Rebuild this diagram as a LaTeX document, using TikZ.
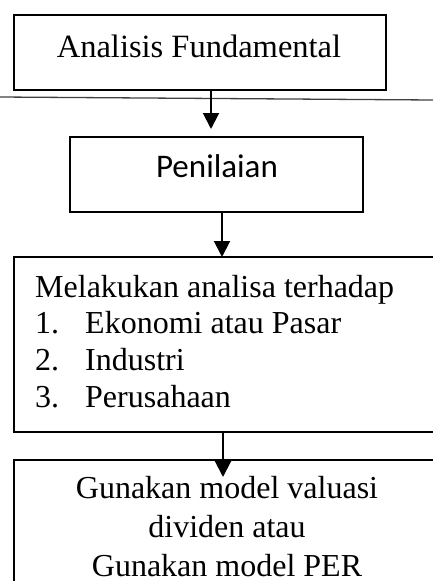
\documentclass[tikz,border=0pt]{standalone}
\usepackage{fontspec}
\setmainfont{Liberation Serif}
\newfontfamily\penfont{Carlito}
\usetikzlibrary{arrows.meta}
\begin{document}
\begin{tikzpicture}[x=1pt,y=-1pt,
  box/.style={draw=black,line width=2.2pt,inner sep=0pt},
  txt/.style={inner sep=0pt,font=\fontsize{32}{38}\selectfont},
  conn/.style={draw=black,line width=2pt,-{Triangle[width=16pt,length=16pt]}},
  rule/.style={draw=black!75,line width=1.3pt}]
\useasboundingbox (0,0) rectangle (433,581);
\clip (0,0) rectangle (433,581);
% boxes
\node[box,minimum width=372pt,minimum height=75pt] (b1) at (200,52.5) {};
\node[box,minimum width=293pt,minimum height=75pt] (b2) at (216.5,174.5) {};
\node[box,minimum width=428pt,minimum height=175pt] (b3) at (228,344.5) {};
\node[box,minimum width=428pt,minimum height=160pt] (b4) at (228,540) {};
% rule line
\coordinate (rl) at (0,97);
\coordinate (rr) at (433,100);
\draw[rule] (rl) -- (rr);
% texts
\node[txt,anchor=base,font=\fontsize{32.5}{38}\selectfont] (t1) at (199,57) {Analisis Fundamental};
\node[txt,anchor=base,font=\penfont\fontsize{33}{38}\selectfont] (t2) at (217,177) {Penilaian};
\node[txt,anchor=base west] (t3a) at (35,297) {Melakukan analisa terhadap};
\node[txt,anchor=base west] (n1) at (35,333) {1.};
\node[txt,anchor=base west] (t3b) at (85,333) {Ekonomi atau Pasar};
\node[txt,anchor=base west] (n2) at (35,370) {2.};
\node[txt,anchor=base west] (t3c) at (85,370) {Industri};
\node[txt,anchor=base west] (n3) at (35,407) {3.};
\node[txt,anchor=base west] (t3d) at (85,407) {Perusahaan};
\node[txt,anchor=base] (t4a) at (227,498) {Gunakan model valuasi};
\node[txt,anchor=base] (t4b) at (227,537) {dividen atau};
\node[txt,anchor=base] (t4c) at (227,576) {Gunakan model PER};
% connectors
\coordinate (a1s) at (211,90);
\coordinate (a1e) at (211,129);
\coordinate (a2s) at (222,212);
\coordinate (a2e) at (222,257);
\coordinate (a3s) at (223,432);
\coordinate (a3e) at (223,477);
\draw[conn] (a1s) -- (a1e);
\draw[conn] (a2s) -- (a2e);
\draw[conn] (a3s) -- (a3e);
\end{tikzpicture}
\end{document}
